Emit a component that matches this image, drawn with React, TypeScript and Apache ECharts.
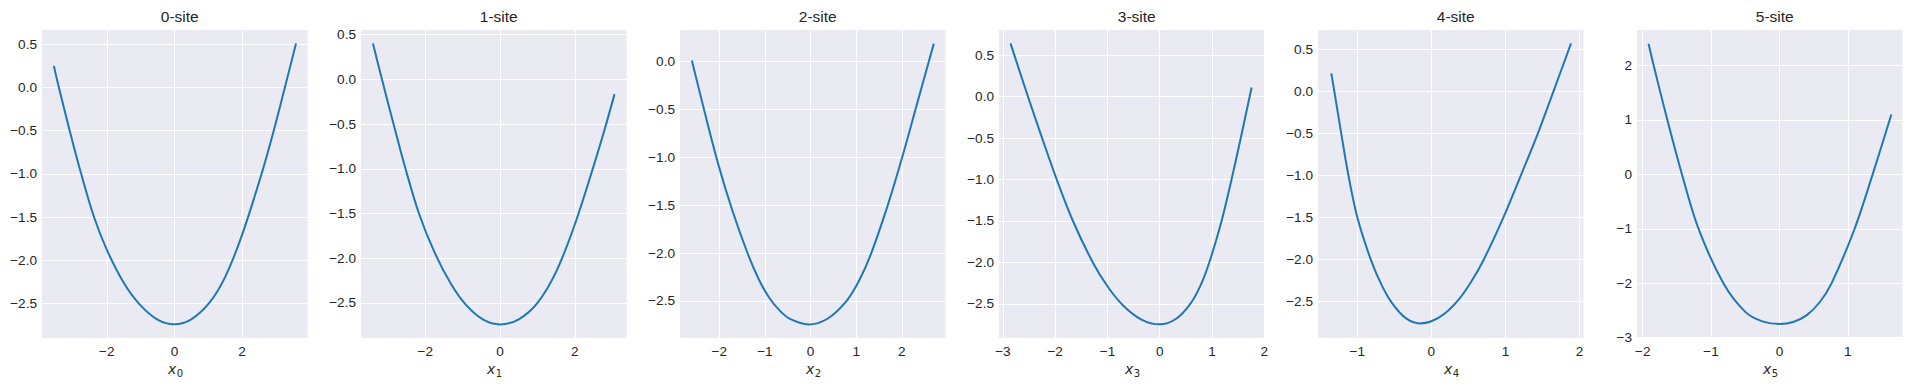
import React, { useEffect, useRef } from 'react';
import * as echarts from 'echarts';

// ---- data ----
const titles = ['0-site', '1-site', '2-site', '3-site', '4-site', '5-site'];
const subscripts = ['0', '1', '2', '3', '4', '5'];

const site0: [number, number][] = [
  [-3.57, 0.25], [-3.42, 0], [-3.1, -0.5], [-2.76, -1.0], [-2.38, -1.5], [-2.0, -1.88],
  [-1.5, -2.26], [-1.03, -2.51], [-0.5, -2.686], [0, -2.74], [0.5, -2.684], [1.05, -2.486],
  [1.5, -2.196], [2.0, -1.71], [2.58, -1.0], [2.94, -0.5], [3.27, 0], [3.6, 0.51],
];
const site1: [number, number][] = [
  [-3.4, 0.4], [-3.16, 0], [-2.85, -0.5], [-2.53, -1.0], [-2.17, -1.5], [-1.75, -1.938],
  [-1.3, -2.297], [-0.9, -2.528], [-0.45, -2.687], [0, -2.74], [0.5, -2.683], [1.0, -2.5],
  [1.5, -2.15], [2.0, -1.62], [2.5, -0.97], [2.8, -0.553], [3.06, -0.165],
];
const site2: [number, number][] = [
  [-2.6, 0.01], [-2.32, -0.529], [-2.03, -1.059], [-1.72, -1.546], [-1.38, -2.002], [-1.13, -2.278],
  [-0.89, -2.477], [-0.67, -2.603], [-0.45, -2.687], [-0.05, -2.745], [0.37, -2.685], [0.79, -2.498],
  [1.07, -2.281], [1.32, -2.013], [1.68, -1.518], [1.995, -1.022], [2.3, -0.5], [2.7, 0.185],
];
const site3: [number, number][] = [
  [-2.855, 0.644], [-2.52, 0], [-2.25, -0.5], [-1.97, -1.0], [-1.66, -1.5], [-1.28, -2.0],
  [-0.99, -2.296], [-0.7, -2.519], [-0.35, -2.689], [0, -2.747], [0.3, -2.686], [0.575, -2.509],
  [0.78, -2.279], [0.95, -1.998], [1.18, -1.508], [1.37, -1.011], [1.55, -0.501], [1.72, 0], [1.759, 0.112],
];
const site4: [number, number][] = [
  [-1.35, 0.21], [-1.31, 0], [-1.217, -0.5], [-1.12, -1.0], [-1.0, -1.5], [-0.82, -2.0],
  [-0.675, -2.301], [-0.53, -2.524], [-0.34, -2.707], [-0.155, -2.766], [0.0, -2.741], [0.177, -2.652],
  [0.38, -2.471], [0.54, -2.268], [0.7, -2.02], [0.975, -1.5], [1.21, -1.0], [1.44, -0.5], [1.65, 0],
  [1.886, 0.567],
];
const site5: [number, number][] = [
  [-1.915, 2.4], [-1.84, 2.0], [-1.637, 0.987], [-1.426, 0], [-1.18, -1.01], [-0.816, -2.01],
  [-0.5, -2.525], [-0.25, -2.7], [0, -2.75], [0.2, -2.712], [0.4, -2.584], [0.585, -2.353],
  [0.76, -2.005], [1.09, -1.03], [1.36, -0.013], [1.637, 1.1],
];

const xTicks0 = [-2, 0, 2];
const xTicks1 = [-2, 0, 2];
const xTicks2 = [-2, -1, 0, 1, 2];
const xTicks3 = [-3, -2, -1, 0, 1, 2];
const xTicks4 = [-1, 0, 1, 2];
const xTicks5 = [-2, -1, 0, 1];

const yTicksHalf = [-2.5, -2, -1.5, -1, -0.5, 0, 0.5];
const yTicks2 = [-2.5, -2, -1.5, -1, -0.5, 0];
const yTicks5 = [-3, -2, -1, 0, 1, 2];

const xRanges: [number, number][] = [
  [-3.92, 3.94], [-3.72, 3.38], [-2.86, 2.956], [-3.075, 2.005], [-1.53, 2.054], [-2.084, 1.8],
];
const yRanges: [number, number][] = [
  [-2.9, 0.665], [-2.892, 0.552], [-2.886, 0.327], [-2.912, 0.805], [-2.94, 0.727], [-3.005, 2.653],
];

const datasets = [site0, site1, site2, site3, site4, site5];
const xTicks = [xTicks0, xTicks1, xTicks2, xTicks3, xTicks4, xTicks5];
const yTicks = [yTicksHalf, yTicksHalf, yTicks2, yTicksHalf, yTicksHalf, yTicks5];
const yDecimals = [1, 1, 1, 1, 1, 0];

// ---- layout ----
const FONT = '"Liberation Sans", Arial, sans-serif';
const TEXT = '#262626';
const PLOT_TOP = 30;
const PLOT_H = 308;
const PLOT_W = 265.5;
const PLOT_LEFT0 = 42;
const PLOT_STEP = 319;

const fmt = (v: number, d: number) => {
  const s = Math.abs(v) < 1e-9 ? (0).toFixed(d) : v.toFixed(d);
  return s.replace('-', '\u2212');
};

function buildOption() {
  const grid: any[] = [];
  const xAxis: any[] = [];
  const yAxis: any[] = [];
  const series: any[] = [];
  const title: any[] = [];
  const graphic: any[] = [];

  datasets.forEach((data, i) => {
    const left = PLOT_LEFT0 + i * PLOT_STEP;
    const cx = left + PLOT_W / 2;
    grid.push({
      left, top: PLOT_TOP, width: PLOT_W, height: PLOT_H,
      show: true, backgroundColor: '#EAEAF2', borderWidth: 0,
      containLabel: false, outerBoundsMode: 'none',
    });
    xAxis.push({
      type: 'value', gridIndex: i, min: xRanges[i][0], max: xRanges[i][1],
      axisLine: { show: false, onZero: false },
      axisTick: { show: false, customValues: xTicks[i] },
      axisLabel: {
        customValues: xTicks[i], margin: 6, fontSize: 13.6, color: TEXT, fontFamily: FONT,
        formatter: (v: number) => fmt(v, 0),
      },
      splitLine: { show: true, lineStyle: { color: '#ffffff', width: 1 } },
    });
    yAxis.push({
      type: 'value', gridIndex: i, min: yRanges[i][0], max: yRanges[i][1],
      axisLine: { show: false, onZero: false },
      axisTick: { show: false, customValues: yTicks[i] },
      axisLabel: {
        customValues: yTicks[i], margin: 5, fontSize: 13.6, color: TEXT, fontFamily: FONT,
        formatter: (v: number) => fmt(v, yDecimals[i]),
      },
      splitLine: { show: true, lineStyle: { color: '#ffffff', width: 1 } },
    });
    series.push({
      type: 'line', xAxisIndex: i, yAxisIndex: i, data,
      showSymbol: false, smooth: 0.33,
      lineStyle: { color: '#1f77b4', width: 2 }, itemStyle: { color: '#1f77b4' },
    });
    title.push({
      text: titles[i], left: cx, top: 3, textAlign: 'center',
      textStyle: { fontSize: 15.5, fontWeight: 'normal', color: TEXT, fontFamily: FONT },
    });
    graphic.push({
      type: 'text', x: cx + 1.5, y: 369,
      style: {
        text: 'x', fill: TEXT, fontSize: 14, fontStyle: 'italic',
        fontFamily: '"DejaVu Sans", sans-serif', align: 'right', verticalAlign: 'middle',
      },
    });
    graphic.push({
      type: 'text', x: cx + 2, y: 373,
      style: {
        text: subscripts[i], fill: TEXT, fontSize: 10,
        fontFamily: '"DejaVu Sans", sans-serif', align: 'left', verticalAlign: 'middle',
      },
    });
  });

  return {
    animation: false,
    backgroundColor: '#ffffff',
    title, grid, xAxis, yAxis, series, graphic,
  };
}

export default function App() {
  const ref = useRef<HTMLDivElement>(null);
  useEffect(() => {
    document.body.style.margin = '0';
    const chart = echarts.init(ref.current!, null, { renderer: 'svg' });
    chart.setOption(buildOption() as any);
    return () => chart.dispose();
  }, []);
  return <div ref={ref} style={{ width: 1912, height: 387 }} />;
}
